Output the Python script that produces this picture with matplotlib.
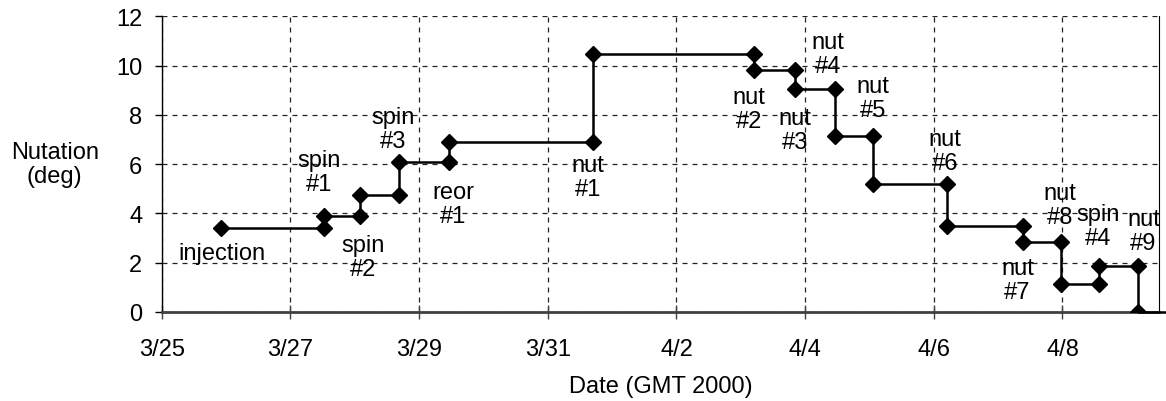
import matplotlib
matplotlib.use('Agg')
import matplotlib.pyplot as plt

plt.rcParams['font.family'] = ['Liberation Sans', 'DejaVu Sans']

# days counted from 3/25 00:00 (GMT 2000)
start_day = 0.92
start_nutation = 3.4
event_days = [2.52, 3.08, 3.69, 4.47, 6.71, 9.20, 9.85, 10.46, 11.06, 12.20,
              13.39, 13.97, 14.56, 15.17]
nutation_after = [3.9, 4.74, 6.1, 6.88, 10.45, 9.82, 9.04, 7.15, 5.19, 3.5,
                  2.85, 1.12, 1.85, 0.0]
end_day = 15.7

tick_days = [0, 2, 4, 6, 8, 10, 12, 14]
tick_labels = ['3/25', '3/27', '3/29', '3/31', '4/2', '4/4', '4/6', '4/8']

label_names = ['injection', 'spin\n#1', 'spin\n#2', 'spin\n#3', 'reor\n#1',
               'nut\n#1', 'nut\n#2', 'nut\n#3', 'nut\n#4', 'nut\n#5',
               'nut\n#6', 'nut\n#7', 'nut\n#8', 'spin\n#4', 'nut\n#9']
label_xy = [(0.93, 2.39), (2.45, 5.7), (3.13, 2.25), (3.59, 7.42), (4.53, 4.38),
            (6.62, 5.47), (9.13, 8.23), (9.84, 7.38), (10.36, 10.46), (11.06, 8.7),
            (12.17, 6.55), (13.30, 1.3), (13.96, 4.35), (14.56, 3.49), (15.26, 3.28)]

# build the step path: every event has a before and after point
xs = [start_day]
ys = [start_nutation]
prev = start_nutation
for d, v in zip(event_days, nutation_after):
    xs += [d, d]
    ys += [prev, v]
    prev = v

fig = plt.figure(figsize=(11.66, 4.02), dpi=100)
ax = fig.add_axes([0.1387, 0.2214, 0.994 - 0.1387, 0.957 - 0.2214])

ax.plot(xs + [end_day], ys + [ys[-1]], color='black', lw=1.8, clip_on=False, zorder=3)
ax.plot(xs, ys, ls='none', marker='D', ms=8.5, color='black', zorder=4)

for name, (x, y) in zip(label_names, label_xy):
    ax.text(x, y, name, ha='center', va='center', fontsize=17, linespacing=1.12, zorder=5)

ax.set_xlim(0, 15.5)
ax.set_ylim(0, 12)
ax.set_xticks(tick_days)
ax.set_xticklabels(tick_labels)
ax.set_yticks(range(0, 13, 2))

ax.grid(True, color='#222222', ls=(0, (4, 4)), lw=0.9)
ax.set_axisbelow(True)

ax.spines['top'].set_visible(False)
ax.spines['left'].set_color('black')
ax.spines['left'].set_linewidth(1.0)
ax.spines['right'].set_linewidth(0.8)
ax.spines['bottom'].set_color('#404040')
ax.spines['bottom'].set_linewidth(2.0)

ax.tick_params(axis='x', direction='inout', length=10, width=1, labelsize=17, pad=13.6, color='#404040')
ax.tick_params(axis='y', direction='out', length=5, width=1, labelsize=17, pad=9)

ax.set_xlabel('Date (GMT 2000)', fontsize=17, labelpad=11)
fig.text(54.7 / 1166, 1 - 165 / 402, 'Nutation\n(deg)', ha='center', va='center',
         fontsize=17, linespacing=1.12)

fig.savefig('out.png', dpi=100)
